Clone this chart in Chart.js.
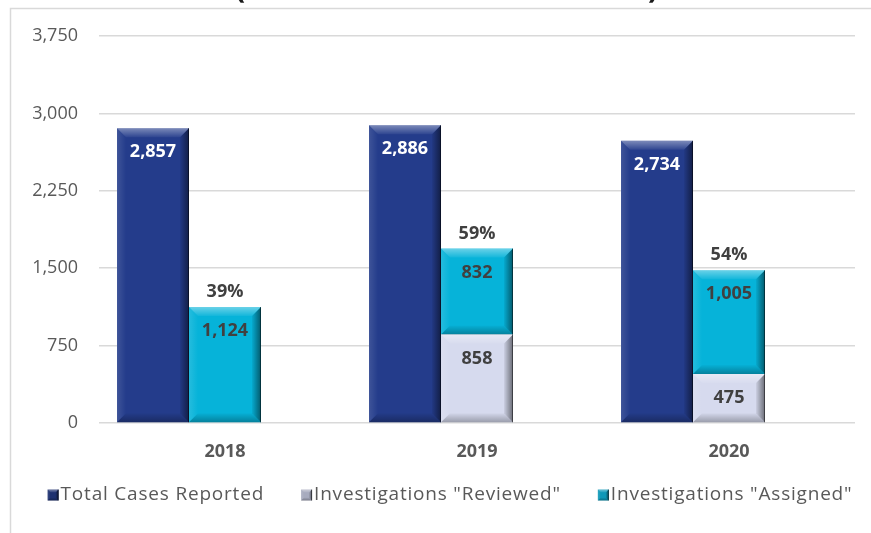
<!DOCTYPE html>
<html>
<head>
<meta charset="utf-8">
<script src="https://cdn.jsdelivr.net/npm/chart.js@4.4.1/dist/chart.umd.min.js"></script>
<style>
  html, body { margin: 0; padding: 0; background: #fff; }
  #wrap { position: relative; width: 871px; height: 533px; }
</style>
</head>
<body>
<div id="wrap"><canvas id="chart" width="871" height="533"></canvas></div>
<script>
// --- Data ---
const years = ['2018', '2019', '2020'];
const totalCases = [2857, 2886, 2734];
const reviewed = [0, 858, 475];
const assigned = [1124, 832, 1005];
const assignedPct = ['39%', '59%', '54%'];
const yTickValues = [0, 750, 1500, 2250, 3000, 3750];
const seriesNames = ['Total Cases Reported', 'Investigations "Reviewed"', 'Investigations "Assigned"'];

// --- Styles ---
const NAVY = '#243C8B';
const LAVENDER = '#D6DAEE';
const CYAN = '#06B3D9';
const TEXT_GRAY = '#595959';
const LABEL_DARK = '#404040';
const GRID = '#D9D9D9';
const FONT = '"Open Sans", Lato, sans-serif';

const fmt = v => v.toLocaleString('en-US');

// Excel-ish soft bevel on a rectangle
function bevel(ctx, l, t, r, b, s) {
  const poly = (pts, fill) => {
    ctx.beginPath();
    ctx.moveTo(pts[0][0], pts[0][1]);
    pts.slice(1).forEach(p => ctx.lineTo(p[0], p[1]));
    ctx.closePath();
    ctx.fillStyle = fill;
    ctx.fill();
  };
  const h = Math.min(s, (b - t) / 2);
  let g = ctx.createLinearGradient(0, t, 0, t + h);
  g.addColorStop(0, 'rgba(255,255,255,0.40)');
  g.addColorStop(1, 'rgba(255,255,255,0.05)');
  poly([[l, t], [r, t], [r - h, t + h], [l + h, t + h]], g);
  g = ctx.createLinearGradient(l, 0, l + h, 0);
  g.addColorStop(0, 'rgba(255,255,255,0.12)');
  g.addColorStop(1, 'rgba(255,255,255,0)');
  poly([[l, t], [l + h, t + h], [l + h, b - h], [l, b]], g);
  g = ctx.createLinearGradient(r - h, 0, r, 0);
  g.addColorStop(0, 'rgba(0,0,0,0.05)');
  g.addColorStop(1, 'rgba(0,0,0,0.50)');
  poly([[r, t], [r, b], [r - h, b - h], [r - h, t + h]], g);
  g = ctx.createLinearGradient(0, b - h, 0, b);
  g.addColorStop(0, 'rgba(0,0,0,0.02)');
  g.addColorStop(1, 'rgba(0,0,0,0.28)');
  poly([[l, b], [r, b], [r - h, b - h], [l + h, b - h]], g);
  ctx.fillStyle = 'rgba(0,0,0,0.45)';
  ctx.fillRect(r - 1, t, 1, b - t);
}

// Frame of the original chart box plus the clipped title above it
const framePlugin = {
  id: 'frame',
  beforeDraw(chart) {
    const ctx = chart.ctx;
    ctx.save();
    ctx.fillStyle = '#fff';
    ctx.fillRect(0, 0, chart.width, chart.height);
    ctx.strokeStyle = GRID;
    ctx.lineWidth = 1.5;
    ctx.beginPath();
    ctx.moveTo(10.5, chart.height);
    ctx.lineTo(10.5, 8.5);
    ctx.lineTo(chart.width, 8.5);
    ctx.stroke();
    // title sits above the visible area; only the tails of the brackets show
    ctx.fillStyle = '#1a1a1a';
    ctx.font = 'bold 30px ' + FONT;
    ctx.textAlign = 'center';
    ctx.textBaseline = 'alphabetic';
    ctx.fillText('(', 240, -2);
    ctx.fillText(')', 653, -2);
    ctx.restore();
  }
};

// Bevel overlay on every bar
const bevelPlugin = {
  id: 'bevel',
  afterDatasetsDraw(chart) {
    const ctx = chart.ctx;
    ctx.save();
    chart.data.datasets.forEach((ds, i) => {
      if (ds.spacer) return;
      chart.getDatasetMeta(i).data.forEach(bar => {
        const { x, y, base, width } = bar.getProps(['x', 'y', 'base', 'width'], true);
        const top = Math.min(y, base), bottom = Math.max(y, base);
        if (bottom - top < 1) return;
        bevel(ctx, x - width / 2, top, x + width / 2, bottom, 9);
      });
    });
    ctx.restore();
  }
};

// Value labels inside bars, percentage above the stacked bar
const valueLabelPlugin = {
  id: 'valueLabels',
  afterDatasetsDraw(chart) {
    const ctx = chart.ctx;
    ctx.save();
    ctx.textAlign = 'center';
    ctx.textBaseline = 'middle';
    ctx.font = 'bold 18px ' + FONT;
    chart.data.datasets.forEach((ds, i) => {
      if (ds.spacer) return;
      chart.getDatasetMeta(i).data.forEach((bar, j) => {
        const v = ds.data[j];
        if (!v) return;
        const { x, y } = bar.getProps(['x', 'y'], true);
        ctx.fillStyle = ds.labelColor;
        ctx.fillText(fmt(v), x, y + 24);
        if (ds.pct) {
          ctx.fillStyle = LABEL_DARK;
          ctx.fillText(ds.pct[j], x, y - 15);
        }
      });
    });
    ctx.restore();
  }
};

// Legend drawn like the Excel one: small bevelled squares, tight text gap
const legendPlugin = {
  id: 'excelLegend',
  afterDraw(chart) {
    const ctx = chart.ctx;
    const items = chart.data.datasets.filter(d => !d.spacer);
    ctx.save();
    ctx.font = '19px ' + FONT;
    ctx.letterSpacing = '0.8px';
    ctx.textBaseline = 'middle';
    ctx.textAlign = 'left';
    const box = 11, gapText = 2, gapItem = 37;
    const widths = items.map(d => box + gapText + ctx.measureText(d.label).width);
    const total = widths.reduce((a, b) => a + b, 0) + gapItem * (items.length - 1);
    let x = 450 - total / 2;
    const cy = 495;
    items.forEach((d, k) => {
      ctx.fillStyle = d.legendColor;
      ctx.fillRect(x, cy - box / 2, box, box);
      bevel(ctx, x, cy - box / 2, x + box, cy + box / 2, 3);
      ctx.fillStyle = TEXT_GRAY;
      ctx.fillText(d.label, x + box + gapText, cy);
      x += widths[k] + gapItem;
    });
    ctx.restore();
  }
};

new Chart(document.getElementById('chart'), {
  type: 'bar',
  data: {
    labels: years,
    datasets: [
      { label: seriesNames[0], data: totalCases, stack: 'total', backgroundColor: NAVY,
        labelColor: '#ffffff', legendColor: '#1E3170' },
      { label: seriesNames[1], data: reviewed, stack: 'inv', backgroundColor: LAVENDER,
        labelColor: LABEL_DARK, legendColor: '#A7ABBE' },
      { label: seriesNames[2], data: assigned, stack: 'inv', backgroundColor: CYAN,
        labelColor: LABEL_DARK, legendColor: '#0F98B8', pct: assignedPct },
      // empty third slot, as in the source chart the bars sit left of the year label
      { label: '', data: [0, 0, 0], stack: 'gap', backgroundColor: 'rgba(0,0,0,0)', spacer: true }
    ]
  },
  options: {
    responsive: false,
    animation: false,
    devicePixelRatio: 1,
    layout: { padding: { left: 0, right: 16, top: 36, bottom: 0 } },
    datasets: {
      bar: { categoryPercentage: 0.857, barPercentage: 1, borderWidth: 0 }
    },
    plugins: {
      legend: { display: false },
      tooltip: { enabled: false },
      title: { display: false }
    },
    scales: {
      x: {
        stacked: true,
        grid: { display: false, drawTicks: false },
        border: { display: false },
        ticks: { color: TEXT_GRAY, font: { family: FONT, size: 18, weight: 'bold' }, padding: 18 },
        afterFit(s) { s.height = 110; }
      },
      y: {
        stacked: true,
        min: 0,
        max: 3750,
        afterBuildTicks(s) { s.ticks = yTickValues.map(v => ({ value: v })); },
        grid: { color: GRID, lineWidth: 1.5, drawTicks: false },
        border: { display: false },
        ticks: {
          color: TEXT_GRAY,
          font: { family: FONT, size: 18 },
          padding: 21,
          callback: v => fmt(v)
        },
        afterFit(s) { s.width = 99; }
      }
    }
  },
  plugins: [framePlugin, bevelPlugin, valueLabelPlugin, legendPlugin]
});
</script>
</body>
</html>
